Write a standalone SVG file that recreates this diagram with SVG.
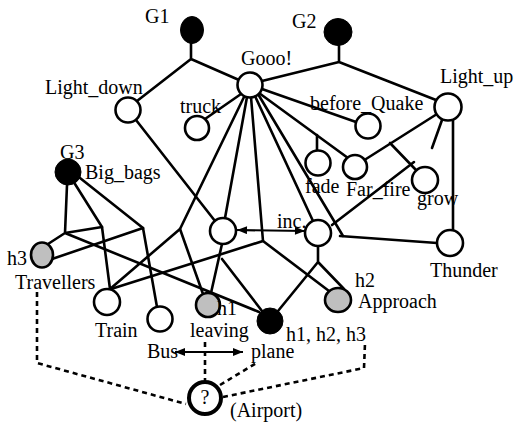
<svg xmlns="http://www.w3.org/2000/svg" width="515" height="422" viewBox="0 0 515 422">
<defs>
<marker id="ah" viewBox="0 0 10 8" refX="10" refY="4" markerWidth="11" markerHeight="8" markerUnits="userSpaceOnUse" orient="auto-start-reverse"><path d="M0,0 L10,4 L0,8 z" fill="#000"/></marker>
</defs>
<style>
.e{fill:none;stroke:#000;stroke-width:2.6;stroke-linecap:round;stroke-linejoin:round}
.d{fill:none;stroke:#000;stroke-width:2.6;stroke-dasharray:5 4}
.a{fill:none;stroke:#000;stroke-width:2.2;marker-start:url(#ah);marker-end:url(#ah)}
.o{fill:#fff;stroke:#000;stroke-width:2.6}
.b{fill:#000;stroke:#000;stroke-width:1}
.g{fill:#bfbfbf;stroke:#000;stroke-width:2.6}
.q{fill:#fff;stroke:#000;stroke-width:4}
text{font-family:"Liberation Serif","Times New Roman",serif;font-size:20px;fill:#000}
</style>
<rect width="515" height="422" fill="#fff"/>
<g id="connectors">
<path class="e" d="M191,43 L191,59 M191,59 L137,101 M191,59 L239,80"/>
<path class="e" d="M339,46 L339,62 M339,62 L262,81 M339,62 L436,100"/>
<path class="e" d="M241,94 L205,119"/>
<path class="e" d="M244,97 L180,229"/>
<path class="e" d="M247,97 L225,218"/>
<path class="e" d="M251,97 L263,241"/>
<path class="e" d="M255,96 L313,221"/>
<path class="e" d="M258,94 L343,236"/>
<path class="e" d="M259,93 L348,158"/>
<path class="e" d="M262,89 L356,122"/>
<path class="e" d="M317,135 L317,151"/>
<path class="e" d="M366,159 L437,114"/>
<path class="e" d="M390,143 L416,170"/>
<path class="e" d="M442,120 L432,148 M414,162 L332,225"/>
<path class="e" d="M453,120 L453,230"/>
<path class="e" d="M340,236 L437,243"/>
<path class="e" d="M136,120 L215,221"/>
<path class="a" d="M237,230 L305,231"/>
<path class="e" d="M222,244 L211,293"/>
<path class="e" d="M222,259 L262,311"/>
<path class="e" d="M318,246 L318,262 M318,262 L278,311 M318,262 L344,289"/>
<path class="e" d="M263,241 L329,291 M263,241 L111,289"/>
<path class="e" d="M180,229 L110,289 M180,229 L203,294"/>
<path class="e" d="M67,185 L65,233 M65,233 L48,244 M65,233 L102,227 M65,233 L259,312"/>
<path class="e" d="M75,184 L102,227 L110,289"/>
<path class="e" d="M80,178 L143,228 L157,307"/>
<path class="e" d="M52,259 L143,228"/>
<path class="d" d="M37,292 L37,363 L186,404"/>
<path class="d" d="M205,342 L205,380"/>
<path class="d" d="M220,385 L258,362"/>
<path class="d" d="M223,397 L364,368 L365,343"/>
<path class="a" d="M175,352 L243,352"/>
</g>
<g id="G1"><ellipse class="b" cx="192" cy="30" rx="11.5" ry="13.5"/><text x="145" y="23">G1</text></g>
<g id="G2"><ellipse class="b" cx="338" cy="32" rx="14" ry="13.5"/><text x="292" y="28">G2</text></g>
<g id="G3"><circle class="b" cx="68" cy="172" r="13"/><text x="60" y="159">G3</text><text x="85" y="179">Big_bags</text></g>
<g id="Gooo"><circle class="o" cx="250" cy="85" r="12.5"/><text x="241" y="65">Gooo!</text></g>
<g id="Light_down"><circle class="o" cx="128" cy="110" r="12.5"/><text x="45" y="94">Light_down</text></g>
<g id="truck"><circle class="o" cx="197" cy="128" r="12"/><text x="180" y="113">truck</text></g>
<g id="before_Quake"><circle class="o" cx="368" cy="126" r="12.5"/><text x="310" y="110">before_Quake</text></g>
<g id="Light_up"><circle class="o" cx="448" cy="107" r="13.5"/><text x="440" y="83">Light_up</text></g>
<g id="fade"><circle class="o" cx="318" cy="163" r="12.5"/><text x="305" y="193">fade</text></g>
<g id="Far_fire"><circle class="o" cx="355" cy="167" r="12"/><text x="346" y="196">Far_fire</text></g>
<g id="grow"><circle class="o" cx="425" cy="180" r="13"/><text x="417" y="205">grow</text></g>
<g id="Thunder"><circle class="o" cx="450" cy="243" r="13"/><text x="430" y="277">Thunder</text></g>
<g id="inc_left"><circle class="o" cx="223" cy="231" r="13"/></g>
<g id="inc_right"><circle class="o" cx="318" cy="233" r="13"/><text x="277" y="228">inc.</text></g>
<g id="Travellers"><ellipse class="g" cx="42" cy="255" rx="11" ry="12.5"/><text x="7" y="265">h3</text><text x="15" y="289">Travellers</text></g>
<g id="Train"><circle class="o" cx="107" cy="302" r="13"/><text x="95" y="337">Train</text></g>
<g id="n_unnamed"><circle class="o" cx="160" cy="319" r="12.5"/></g>
<g id="leaving"><circle class="g" cx="208" cy="305" r="12"/><text x="217" y="315">h1</text><text x="190" y="337">leaving</text></g>
<g id="plane"><circle class="b" cx="270" cy="321" r="13"/><text x="286" y="341">h1, h2, h3</text></g>
<g id="Approach"><ellipse class="g" cx="338" cy="300" rx="13" ry="12"/><text x="355" y="287">h2</text><text x="358" y="308">Approach</text></g>
<g id="Bus_plane"><text x="147" y="358">Bus</text><text x="251" y="358">plane</text></g>
<g id="Airport"><circle class="q" cx="205" cy="398" r="16"/><text x="205" y="404" text-anchor="middle">?</text><text x="230" y="417">(Airport)</text></g>
</svg>
